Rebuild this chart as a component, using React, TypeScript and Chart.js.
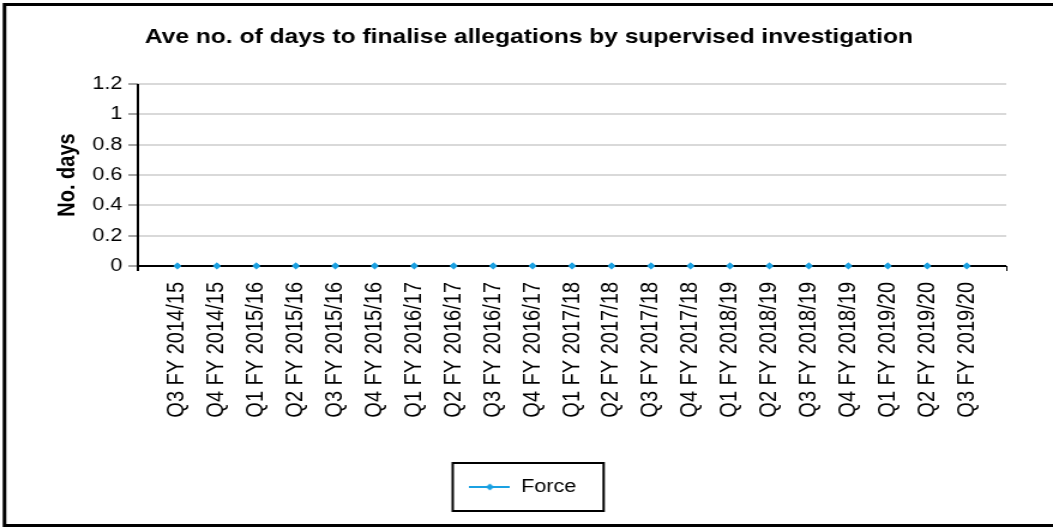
import React, { useEffect, useRef } from "react";
import { Chart, registerables } from "chart.js";

Chart.register(...registerables);

const TITLE = "Ave no. of days to finalise allegations by supervised investigation";
const Y_TITLE = "No. days";
const SERIES_LABEL = "Force";
const CATEGORIES = [
  "Q3 FY 2014/15",
  "Q4 FY 2014/15",
  "Q1 FY 2015/16",
  "Q2 FY 2015/16",
  "Q3 FY 2015/16",
  "Q4 FY 2015/16",
  "Q1 FY 2016/17",
  "Q2 FY 2016/17",
  "Q3 FY 2016/17",
  "Q4 FY 2016/17",
  "Q1 FY 2017/18",
  "Q2 FY 2017/18",
  "Q3 FY 2017/18",
  "Q4 FY 2017/18",
  "Q1 FY 2018/19",
  "Q2 FY 2018/19",
  "Q3 FY 2018/19",
  "Q4 FY 2018/19",
  "Q1 FY 2019/20",
  "Q2 FY 2019/20",
  "Q3 FY 2019/20",
];
const FORCE_VALUES = [0, 0, 0, 0, 0, 0, 0, 0, 0, 0, 0, 0, 0, 0, 0, 0, 0, 0, 0, 0, 0];
const Y_TICKS = [0, 0.2, 0.4, 0.6, 0.8, 1, 1.2];

const BLUE = "#1BA1E2";
const FONT = "'Liberation Sans', Arial, sans-serif";

// The picture's text is horizontally wider than normal: draw at a narrower logical width and stretch.
const OUT_W = 1053;
const OUT_H = 527;
const LOGICAL_W = 878;

function makeLegendImage(): HTMLCanvasElement {
  const img = document.createElement("canvas");
  img.width = 34;
  img.height = 10;
  const c = img.getContext("2d")!;
  c.strokeStyle = BLUE;
  c.lineWidth = 2;
  c.beginPath();
  c.moveTo(0, 5);
  c.lineTo(34, 5);
  c.stroke();
  c.fillStyle = BLUE;
  c.beginPath();
  c.moveTo(17, 1.5);
  c.lineTo(20.5, 5);
  c.lineTo(17, 8.5);
  c.lineTo(13.5, 5);
  c.closePath();
  c.fill();
  return img;
}

export default function App() {
  const ref = useRef<HTMLCanvasElement | null>(null);

  useEffect(() => {
    document.body.style.margin = "0";
    const canvas = ref.current;
    if (!canvas) return;
    const legendImg = makeLegendImage();

    const decorations = {
      id: "decorations",
      afterLayout(chart: any) {
        if (chart.legend) {
          chart.legend.left -= 5;
          chart.legend.right -= 5;
        }
      },
      afterDatasetsDraw(chart: any) {
        const { ctx, chartArea: a, scales } = chart;
        const y0 = scales.y.getPixelForValue(0);
        ctx.save();
        ctx.strokeStyle = "#000";
        ctx.lineWidth = 2;
        ctx.beginPath();
        ctx.moveTo(a.left, a.top);
        ctx.lineTo(a.left, y0 + 5);
        ctx.moveTo(a.left - 1, y0);
        ctx.lineTo(a.right, y0);
        ctx.stroke();
        ctx.lineWidth = 1;
        ctx.beginPath();
        ctx.moveTo(a.right + 0.5, y0);
        ctx.lineTo(a.right + 0.5, y0 + 5);
        ctx.stroke();
        const meta = chart.getDatasetMeta(0);
        meta.data.forEach((p: any) => p.draw(ctx, a));
        ctx.restore();
      },
      afterDraw(chart: any) {
        const { ctx } = chart;
        ctx.save();
        ctx.strokeStyle = "#000";
        ctx.lineWidth = 3;
        ctx.strokeRect(3.75, 4.5, 1000, 521);
        const hb = chart.legend && chart.legend.legendHitBoxes && chart.legend.legendHitBoxes[0];
        if (hb) {
          ctx.lineWidth = 2;
          ctx.strokeRect(hb.left - 14, hb.top - 15, hb.width + 36.8, hb.height + 30);
        }
        ctx.restore();
      },
    };

    const chart = new Chart(canvas, {
      type: "line",
      data: {
        labels: ["", ...CATEGORIES, ""],
        datasets: [
          {
            label: SERIES_LABEL,
            data: [null, ...FORCE_VALUES, null],
            borderColor: BLUE,
            backgroundColor: BLUE,
            borderWidth: 2,
            pointStyle: "rectRot",
            pointRadius: 3.5,
            pointBackgroundColor: BLUE,
            pointBorderColor: BLUE,
            pointBorderWidth: 0,
            spanGaps: false,
          },
        ],
      },
      options: {
        responsive: false,
        animation: false,
        devicePixelRatio: 1,
        layout: { padding: { left: 4, right: 0, top: 0, bottom: 21 } },
        plugins: {
          title: {
            display: true,
            text: TITLE,
            color: "#000",
            font: { family: FONT, size: 20.5, weight: "bold", lineHeight: 1.2 },
            padding: { top: 24.7, bottom: 34.7 },
          },
          legend: {
            display: true,
            position: "bottom",
            labels: {
              usePointStyle: true,
              pointStyleWidth: 34,
              color: "#000",
              font: { family: FONT, size: 18 },
              padding: 10,
              generateLabels: (ch: any) =>
                ch.data.datasets.map((ds: any, i: number) => ({
                  text: ds.label,
                  pointStyle: legendImg,
                  fillStyle: BLUE,
                  strokeStyle: BLUE,
                  lineWidth: 0,
                  hidden: false,
                  datasetIndex: i,
                  fontColor: "#000",
                })),
            },
          },
          tooltip: { enabled: false },
        },
        scales: {
          x: {
            type: "category",
            offset: false,
            grid: { display: false },
            border: { display: false },
            ticks: {
              autoSkip: false,
              minRotation: 90,
              maxRotation: 90,
              padding: 8,
              color: "#000",
              font: { family: FONT, size: 20 },
            },
            afterFit: (s: any) => {
              s.height = 202;
            },
          },
          y: {
            type: "linear",
            position: "left",
            min: 0,
            max: 1.2,
            afterBuildTicks: (s: any) => {
              s.ticks = Y_TICKS.map((v) => ({ value: v }));
            },
            ticks: {
              padding: 5,
              color: "#000",
              font: { family: FONT, size: 18 },
              callback: (v: any) => String(Number(Number(v).toFixed(1))),
            },
            grid: {
              color: "#d9d9d9",
              lineWidth: 2,
              tickLength: 8,
              tickColor: "#a6a6a6",
            },
            border: { display: false },
            title: {
              display: true,
              text: Y_TITLE,
              color: "#000",
              font: { family: FONT, size: 20, weight: "bold" },
              padding: { top: 40, bottom: 0 },
            },
            afterFit: (s: any) => {
              s.width = 111;
            },
          },
          yRight: {
            type: "linear",
            position: "right",
            display: true,
            grid: { display: false },
            border: { display: false },
            ticks: { display: false },
            afterFit: (s: any) => {
              s.width = 39;
            },
          },
        },
      },
      plugins: [decorations],
    });

    return () => chart.destroy();
  }, []);

  return (
    <div style={{ width: OUT_W, height: OUT_H, overflow: "hidden" }}>
      <canvas
        ref={ref}
        width={LOGICAL_W}
        height={OUT_H}
        style={{ display: "block", width: OUT_W + "px", height: OUT_H + "px" }}
      />
    </div>
  );
}
